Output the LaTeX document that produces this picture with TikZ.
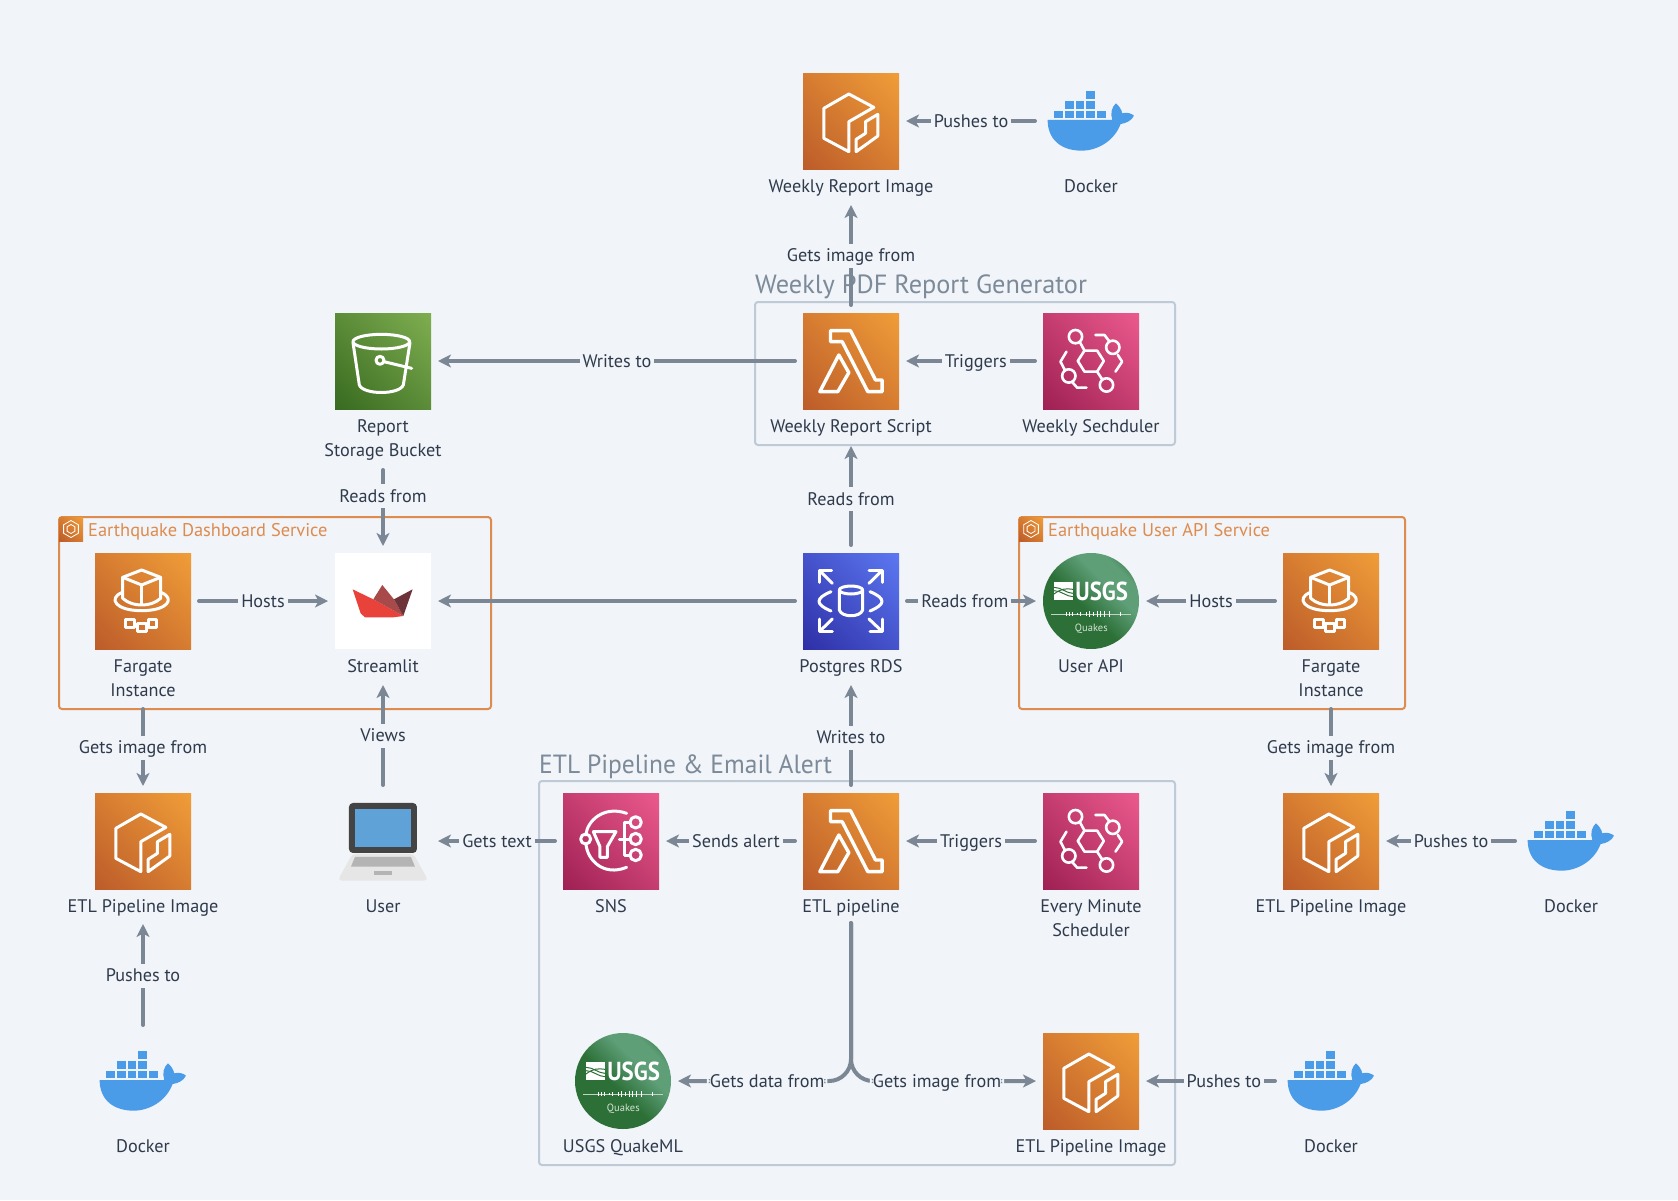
\documentclass[tikz,border=0pt]{standalone}
\usepackage{fontspec}
\setmainfont{PT Sans}
\usetikzlibrary{arrows.meta,shadings,calc}
\definecolor{bg}{HTML}{F1F4F8}
\definecolor{conncol}{HTML}{7B8795}
\definecolor{txtcol}{HTML}{2F3B4C}
\definecolor{grpgray}{HTML}{BFCAD7}
\definecolor{grpt}{HTML}{7C8A99}
\definecolor{grporange}{HTML}{DD8B4E}
\definecolor{od}{HTML}{BC5C2A}\definecolor{ol}{HTML}{F09D38}
\definecolor{pd}{HTML}{9E2054}\definecolor{pl}{HTML}{EC5A8C}
\definecolor{gd}{HTML}{386A20}\definecolor{gl}{HTML}{7FAE50}
\definecolor{bd}{HTML}{2E2FA6}\definecolor{bl}{HTML}{5C78F2}
\definecolor{ud}{HTML}{2C7038}\definecolor{ul}{HTML}{5F9F78}
\definecolor{whale}{HTML}{4A9BE8}
\definecolor{boata}{HTML}{E8423A}\definecolor{boatb}{HTML}{A84A4A}\definecolor{boatc}{HTML}{6E3338}
\definecolor{lapscr}{HTML}{5FA2D8}\definecolor{lapdark}{HTML}{444444}
\definecolor{lapbase}{HTML}{E6E6E6}\definecolor{lapkey}{HTML}{B4B4B4}
\pgfdeclarehorizontalshading{orangeg}{100bp}{color(0bp)=(od);color(14.6bp)=(od);color(85.4bp)=(ol);color(100bp)=(ol)}
\pgfdeclarehorizontalshading{pinkg}{100bp}{color(0bp)=(pd);color(14.6bp)=(pd);color(85.4bp)=(pl);color(100bp)=(pl)}
\pgfdeclarehorizontalshading{greeng}{100bp}{color(0bp)=(gd);color(14.6bp)=(gd);color(85.4bp)=(gl);color(100bp)=(gl)}
\pgfdeclarehorizontalshading{blueg}{100bp}{color(0bp)=(bd);color(14.6bp)=(bd);color(85.4bp)=(bl);color(100bp)=(bl)}
\pgfdeclarehorizontalshading{usgsg}{100bp}{color(0bp)=(ud);color(45bp)=(ud);color(62bp)=(ul);color(72bp)=(ul);color(82bp)=(ud);color(100bp)=(ud)}
\newcommand\tl[1]{\rule[-6pt]{0pt}{24pt}#1}
\tikzset{
  tilebase/.style={minimum size=96pt,inner sep=0pt,outer sep=0pt},
  orangetile/.style={tilebase,shade,shading=orangeg,shading angle=45},
  pinktile/.style={tilebase,shade,shading=pinkg,shading angle=45},
  greentile/.style={tilebase,shade,shading=greeng,shading angle=45},
  bluetile/.style={tilebase,shade,shading=blueg,shading angle=45},
  whitetile/.style={tilebase,fill=white},
  plainslot/.style={tilebase},
  usgsdisc/.style={tilebase,circle,shade,shading=usgsg,shading angle=45},
  tlabel/.style={inner sep=0pt,outer sep=0pt,align=center,text=txtcol,font=\fontsize{18.2}{24}\selectfont},
  clabel/.style={fill=bg,inner xsep=3pt,inner ysep=0pt,outer sep=0pt,text=txtcol,font=\fontsize{18.2}{24}\selectfont},
  grptitle/.style={inner sep=0pt,anchor=west,text=grpt,font=\fontsize{26.3}{30}\selectfont},
  svctitle/.style={inner sep=0pt,anchor=west,text=grporange,font=\fontsize{18.4}{22}\selectfont},
  graygroup/.style={draw=grpgray,line width=2pt,rounded corners=3pt,anchor=north west,inner sep=0pt,outer sep=0pt},
  orangegroup/.style={draw=grporange,line width=2pt,rounded corners=3pt,anchor=north west,inner sep=0pt,outer sep=0pt},
  conn/.style={draw=conncol,line width=4pt,line cap=round,-{Stealth[length=13pt,width=13pt,inset=3.5pt]},shorten <=8pt,shorten >=7pt},
  wic/.style={draw=white,line width=3pt,line join=round,line cap=round},
  wthin/.style={draw=white,line width=2.6pt,line join=round,line cap=round},
}
\newcommand\icEcr[1]{\begin{scope}[shift={(#1)},shift={(-90.5,-71)},scale=.3333]
    \draw[wic] (265,132)--(190,175)--(190,265)--(265,305)--(265,215)--(340,172)--cycle;
    \draw[wic] (352,193)--(352,258)--(287,305)--(287,268)--(315,250)--(315,215)--cycle;
  \end{scope}}
\newcommand\icLambda[1]{\begin{scope}[shift={(#1)},shift={(-90.5,-311)},scale=.3333]
    \draw[wic,line width=3.4pt] (210,842)--(270,842)--(345,990)--(365,990)--(365,1025)--(322,1025)--(245,875)--(210,875)--cycle;
    \draw[wic,line width=3.4pt] (235,915)--(265,968)--(232,1025)--(178,1025)--cycle;
  \end{scope}}
\newcommand\icEvent[1]{\begin{scope}[shift={(#1)},shift={(-330.5,-311)},scale=.3333]
    \draw[wthin] (1030,933)--(1010,965)--(972,965)--(952,933)--(972,902)--(1010,902)--cycle;
    \draw[wthin] (945,860) circle (20);
    \draw[wthin] (958,876)--(972,902);
    \draw[wthin] (1005,855)--(1032,855)--(1045,872);
    \draw[wthin] (1057,892) circle (20);
    \draw[wthin] (1072,915)--(1085,935)--(1065,965);
    \draw[wthin] (1010,965)--(1025,988);
    \draw[wthin] (1038,1005) circle (20);
    \draw[wthin] (978,1013)--(950,1013)--(935,996);
    \draw[wthin] (925,978) circle (20);
    \draw[wthin] (918,905)--(900,935)--(913,960);
  \end{scope}}
\newcommand\icFargate[1]{\begin{scope}[shift={(#1)},shift={(-103,-101)},scale=.3333]
    \draw[wic] (305,210)--(362,232)--(362,295) .. controls (345,310) and (325,315) .. (305,315) .. controls (285,315) and (265,310) .. (248,295)--(248,232)--cycle;
    \draw[wic] (248,232)--(305,255)--(362,232);
    \draw[wic] (305,255)--(305,312);
    \draw[wic] (245,278) .. controls (205,295) and (225,332) .. (305,332) .. controls (385,332) and (405,295) .. (365,278);
    \draw[wic] (258,358) rectangle (285,382);
    \draw[wic] (292,370) rectangle (320,395);
    \draw[wic] (325,358) rectangle (350,382);
  \end{scope}}
\newcommand\icBucket[1]{\begin{scope}[shift={(#1)},shift={(-63,-61)},scale=.3333]
    \draw[wic] (184,125) ellipse (85 and 22);
    \draw[wic] (99,128)--(118,255) .. controls (130,285) and (238,285) .. (250,255)--(270,128);
    \draw[wic] (180,181) circle (12);
    \draw[wic] (192,185)--(275,205);
  \end{scope}}
\newcommand\icSns[1]{\begin{scope}[shift={(#1)},shift={(-281,-61)},scale=.3333]
    \draw[wic] (890,100) .. controls (820,75) and (770,125) .. (768,165);
    \draw[wic] (768,192) .. controls (772,240) and (820,290) .. (890,262);
    \draw[wic] (767,177) circle (15);
    \draw[wic] (790,155)--(858,155)--(832,200)--(832,232)--(810,232)--(810,200)--cycle;
    \draw[wic] (868,177)--(900,177);
    \draw[wic] (885,127)--(885,225);
    \draw[wic] (885,127)--(900,127);
    \draw[wic] (885,225)--(900,225);
    \draw[wic] (917,127) circle (17);
    \draw[wic] (917,177) circle (17);
    \draw[wic] (917,225) circle (17);
  \end{scope}}
\newcommand\icRds[1]{\begin{scope}[shift={(#1)},shift={(-56,-56)},scale=.3333]
    \draw[wic] (72,112)--(72,75)--(110,75);\draw[wic] (75,78)--(112,115);
    \draw[wic] (222,75)--(262,75)--(262,112);\draw[wic] (260,78)--(222,115);
    \draw[wic] (72,222)--(72,260)--(112,260);\draw[wic] (75,258)--(112,222);
    \draw[wic] (225,260)--(262,260)--(262,222);\draw[wic] (260,258)--(222,222);
    \draw[wic] (168,135) ellipse (35 and 12);
    \draw[wic] (133,135)--(133,195) .. controls (140,218) and (196,218) .. (203,195)--(203,135);
    \draw[wic] (108,140) .. controls (60,160) and (60,178) .. (108,198);
    \draw[wic] (225,140) .. controls (273,160) and (273,178) .. (225,198);
  \end{scope}}
\newcommand\icBoat[1]{\begin{scope}[shift={(#1)},shift={(-343,-101)},scale=.3333]
    \fill[boata] (938,268)--(1000,298)--(1090,348)--(1060,352)--(975,352)--(962,340)--cycle;
    \fill[boatb] (1027,255)--(1062,298)--(1090,348)--(1000,298)--cycle;
    \fill[boatc] (1118,268)--(1090,348)--(1062,298)--cycle;
  \end{scope}}
\newcommand\icLaptop[1]{\begin{scope}[shift={(#1)},shift={(-343,-341)},scale=.3333]
    \fill[lapdark,rounded corners=4pt] (927,1059)--(927,909)--(1131,909)--(1131,1059)--cycle;
    \fill[lapscr] (945,927) rectangle (1113,1041);
    \fill[lapbase,rounded corners=4pt] (937,1062)--(1121,1062)--(1165,1142)--(893,1142)--cycle;
    \fill[lapkey] (945,1071)--(1113,1071)--(1125,1100)--(933,1100)--cycle;
    \fill[lapkey] (1003,1113) rectangle (1055,1125);
  \end{scope}}
\newcommand\icWhale[1]{\begin{scope}[shift={(#1)},shift={(-331,-71)},scale=.3333]
    \fill[whale] (863,210)--(1057,210) .. controls (1050,190) and (1056,170) .. (1068,160)
      .. controls (1078,168) and (1085,180) .. (1087,190) .. controls (1100,186) and (1115,190) .. (1122,197)
      .. controls (1115,212) and (1098,220) .. (1082,222) .. controls (1062,275) and (1010,302) .. (965,302)
      .. controls (905,302) and (863,270) .. (863,210)--cycle;
    \foreach \bx/\by in {883/182,915/182,947/182,979/182,1011/182,915/153,947/153,979/153,979/124}
      \fill[whale] (\bx,\by) rectangle ++(26,23);
  \end{scope}}
\newcommand\icUsgs[1]{\begin{scope}[shift={(#1)},shift={(-53,-51)},scale=.3333]
    \fill[white] (48,97) rectangle (105,150);
    \draw[draw=ud,line width=1pt] (48,112) .. controls (70,112) and (85,130) .. (105,130);
    \draw[draw=ud,line width=1pt] (48,132) .. controls (70,115) and (85,115) .. (105,118);
    \draw[draw=ud,line width=1pt] (48,122) .. controls (70,122) and (85,140) .. (105,140);
    \node[inner sep=0pt,text=white,font=\fontsize{26}{26}\selectfont\bfseries,xscale=.88] at (191,124) {USGS};
    \draw[draw=white!70!ud,line width=.6pt] (40,192)--(280,192);
    \foreach \sx/\sh in {85/5,95/6,104/6,118/4,128/5,145/6,155/8,165/6,178/10,188/9,198/10,215/8,248/5}
      \draw[draw=white,line width=.9pt] (\sx,192-\sh)--(\sx,192+\sh);
    \node[inner sep=0pt,text=white!80!ud,font=\fontsize{10.5}{12}\selectfont] at (160,235) {Quakes};
  \end{scope}}
\newcommand\icEcs[1]{\begin{scope}[shift={(#1)}]
    \draw[draw=white,line width=.8pt] (30:8.5)--(90:8.5)--(150:8.5)--(210:8.5)--(270:8.5)--(330:8.5)--cycle;
    \draw[draw=white,line width=.8pt] (30:4.5)--(90:4.5)--(150:4.5)--(210:4.5)--(270:4.5)--(330:4.5)--cycle;
  \end{scope}}
\begin{document}
\begin{tikzpicture}[x=1pt,y=-1pt]
\fill[bg] (0,0) rectangle (1678,1200);
\useasboundingbox (0,0) rectangle (1678,1200);

% groups
\node[graygroup,minimum width=420pt,minimum height=143pt] (wk) at (755,302) {};
\node[grptitle] (wkt) at (755,287) {Weekly PDF Report Generator};
\node[graygroup,minimum width=636pt,minimum height=384pt] (etlg) at (539,781) {};
\node[grptitle,xscale=.97] (etlt) at (539,767) {ETL Pipeline \& Email Alert};
\node[orangegroup,minimum width=432pt,minimum height=192pt] (dash) at (59,517) {};
\node[orangegroup,minimum width=386pt,minimum height=192pt] (apig) at (1019,517) {};
\node[orangetile,minimum size=24pt,anchor=north west] (dashi) at (59,517) {};
\icEcs{dashi}
\node[svctitle] (dasht) at (88,532) {Earthquake Dashboard Service};
\node[orangetile,minimum size=24pt,anchor=north west] (apii) at (1019,517) {};
\icEcs{apii}
\node[svctitle] (apit) at (1048,532) {Earthquake User API Service};

% top row
\node[orangetile] (wri) at (851,121) {}; \icEcr{wri}
\node[tlabel] (wril) at (851,186) {\tl{Weekly Report Image}};
\node[plainslot] (dk1) at (1091,121) {}; \icWhale{dk1}
\node[tlabel] (dk1l) at (1091,186) {\tl{Docker}};

% second row
\node[greentile] (bkt) at (383,361) {}; \icBucket{bkt}
\node[tlabel] (bktl) at (383,438) {\tl{Report}\\\tl{Storage Bucket}};
\node[orangetile] (wrs) at (851,361) {}; \icLambda{wrs}
\node[tlabel] (wrsl) at (851,426) {\tl{Weekly Report Script}};
\node[pinktile] (wsc) at (1091,361) {}; \icEvent{wsc}
\node[tlabel] (wscl) at (1091,426) {\tl{Weekly Sechduler}};

% third row
\node[orangetile] (fg1) at (143,601) {}; \icFargate{fg1}
\node[tlabel] (fg1l) at (143,678) {\tl{Fargate}\\\tl{Instance}};
\node[whitetile] (stl) at (383,601) {}; \icBoat{stl}
\node[tlabel] (stll) at (383,666) {\tl{Streamlit}};
\node[bluetile] (rds) at (851,601) {}; \icRds{rds}
\node[tlabel] (rdsl) at (851,666) {\tl{Postgres RDS}};
\node[usgsdisc] (api) at (1091,601) {}; \icUsgs{api}
\node[tlabel] (apil) at (1091,666) {\tl{User API}};
\node[orangetile] (fg2) at (1331,601) {}; \icFargate{fg2}
\node[tlabel] (fg2l) at (1331,678) {\tl{Fargate}\\\tl{Instance}};

% fourth row
\node[orangetile] (img1) at (143,841) {}; \icEcr{img1}
\node[tlabel] (img1l) at (143,906) {\tl{ETL Pipeline Image}};
\node[plainslot] (usr) at (383,841) {}; \icLaptop{usr}
\node[tlabel] (usrl) at (383,906) {\tl{User}};
\node[pinktile] (sns) at (611,841) {}; \icSns{sns}
\node[tlabel] (snsl) at (611,906) {\tl{SNS}};
\node[orangetile] (etl) at (851,841) {}; \icLambda{etl}
\node[tlabel] (etll) at (851,906) {\tl{ETL pipeline}};
\node[pinktile] (ems) at (1091,841) {}; \icEvent{ems}
\node[tlabel] (emsl) at (1091,918) {\tl{Every Minute}\\\tl{Scheduler}};
\node[orangetile] (img2) at (1331,841) {}; \icEcr{img2}
\node[tlabel] (img2l) at (1331,906) {\tl{ETL Pipeline Image}};
\node[plainslot] (dk2) at (1571,841) {}; \icWhale{dk2}
\node[tlabel] (dk2l) at (1571,906) {\tl{Docker}};

% fifth row
\node[plainslot] (dk3) at (143,1081) {}; \icWhale{dk3}
\node[tlabel] (dk3l) at (143,1146) {\tl{Docker}};
\node[usgsdisc] (qml) at (623,1081) {}; \icUsgs{qml}
\node[tlabel] (qmll) at (623,1146) {\tl{USGS QuakeML}};
\node[orangetile] (img3) at (1091,1081) {}; \icEcr{img3}
\node[tlabel] (img3l) at (1091,1146) {\tl{ETL Pipeline Image}};
\node[plainslot] (dk4) at (1331,1081) {}; \icWhale{dk4}
\node[tlabel] (dk4l) at (1331,1146) {\tl{Docker}};

% connectors
\draw[conn] (dk1.west) -- node[clabel] {\tl{Pushes to}} (wri.east);
\draw[conn] (wrs.north) -- node[clabel] {\tl{Gets image from}} (wril.south);
\draw[conn] (wsc.west) -- node[clabel,pos=.467] {\tl{Triggers}} (wrs.east);
\draw[conn] (wrs.west) -- node[clabel] {\tl{Writes to}} (bkt.east);
\draw[conn] (bktl.south) -- node[clabel,pos=.375] {\tl{Reads from}} (stl.north);
\draw[conn,shorten >=1pt] (rds.north) -- node[clabel] {\tl{Reads from}} (rds.north |- wk.south);
\draw[conn] (rds.west) -- (stl.east);
\draw[conn] (fg1.east) -- node[clabel] {\tl{Hosts}} (stl.west);
\draw[conn] (rds.east) -- node[clabel,pos=.458] {\tl{Reads from}} (api.west);
\draw[conn] (fg2.west) -- node[clabel] {\tl{Hosts}} (api.east);
\draw[conn,shorten <=0pt] (fg1.south |- dash.south) -- node[clabel,pos=.46] {\tl{Gets image from}} (img1.north);
\draw[conn,shorten <=0pt] (fg2.south |- apig.south) -- node[clabel,pos=.46] {\tl{Gets image from}} (img2.north);
\draw[conn,shorten <=8pt,shorten >=6pt] (dk3.north) -- node[clabel] {\tl{Pushes to}} (img1l.south);
\draw[conn] (usr.north) -- node[clabel] {\tl{Views}} (stll.south);
\draw[conn] (sns.west) -- node[clabel] {\tl{Gets text}} (usr.east);
\draw[conn] (etl.west) -- node[clabel,pos=.465] {\tl{Sends alert}} (sns.east);
\draw[conn] (ems.west) -- node[clabel] {\tl{Triggers}} (etl.east);
\draw[conn] (etl.north) -- node[clabel,pos=.48] {\tl{Writes to}} (rdsl.south);
\draw[conn] (dk2.west) -- node[clabel] {\tl{Pushes to}} (img2.east);
\draw[conn] (dk4.west) -- node[clabel,pos=.41] {\tl{Pushes to}} (img3.east);
\draw[conn,rounded corners=22pt,shorten <=5pt] (etll.south) |- node[clabel,pos=.733] {\tl{Gets data from}} (qml.east);
\draw[conn,rounded corners=22pt,shorten <=5pt] (etll.south) |- node[clabel,pos=.724] {\tl{Gets image from}} (img3.west);
\end{tikzpicture}
\end{document}
